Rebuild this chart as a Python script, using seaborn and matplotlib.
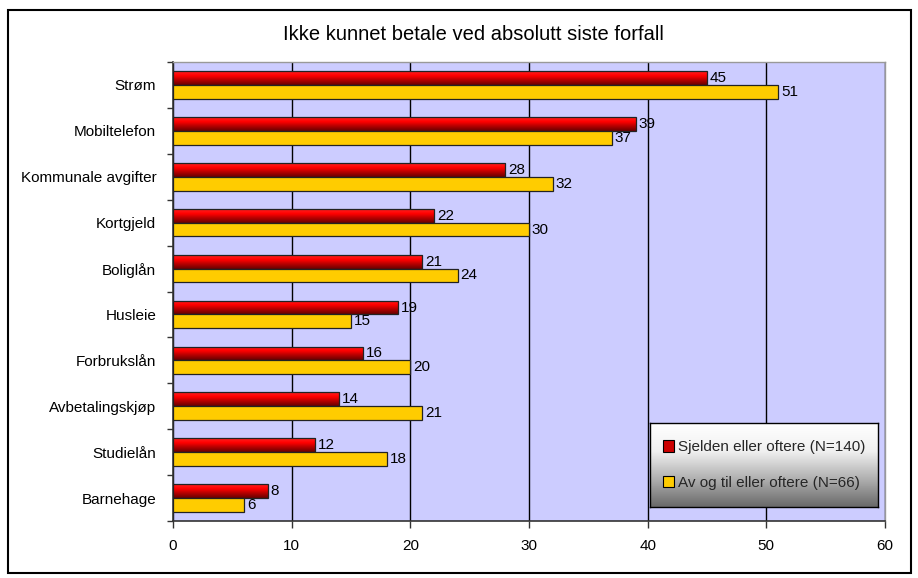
import numpy as np
import pandas as pd
import matplotlib
matplotlib.use("Agg")
import matplotlib.pyplot as plt
import seaborn as sns
from matplotlib.colors import LinearSegmentedColormap
from matplotlib.patches import Rectangle, Patch

categories = ["Strøm", "Mobiltelefon", "Kommunale avgifter", "Kortgjeld", "Boliglån",
              "Husleie", "Forbrukslån", "Avbetalingskjøp", "Studielån", "Barnehage"]
sjelden = [45, 39, 28, 22, 21, 19, 16, 14, 12, 8]
avogtil = [51, 37, 32, 30, 24, 15, 20, 21, 18, 6]
series_names = ["Sjelden eller oftere (N=140)", "Av og til eller oftere (N=66)"]
x_ticks = [0, 10, 20, 30, 40, 50, 60]
title = "Ikke kunnet betale ved absolutt siste forfall"

df = pd.DataFrame({
    "Kategori": categories * 2,
    "Prosent": sjelden + avogtil,
    "Serie": [series_names[0]] * len(categories) + [series_names[1]] * len(categories),
})

sns.set_theme(style="white")
plt.rcParams["font.family"] = ["Liberation Sans", "DejaVu Sans"]

fig = plt.figure(figsize=(9.18, 5.78), dpi=100)
ax = fig.add_axes([173 / 918, 1 - 521 / 578, (885 - 173) / 918, (521 - 62) / 578])
ax.set_facecolor("#CCCCFF")

sns.barplot(data=df, y="Kategori", x="Prosent", hue="Serie", order=categories,
            hue_order=series_names, palette=["#CC0000", "#FFCC00"], width=0.6,
            orient="h", ax=ax, edgecolor="#222222", linewidth=0.9, legend=False,
            saturation=1, zorder=3)

# gradient fill for the red series
red_cmap = LinearSegmentedColormap.from_list("redgrad", ["#FF2020", "#FF0000", "#B00000", "#6A0000"])
grad = np.linspace(0, 1, 64).reshape(-1, 1)
for p in ax.containers[0].patches:
    x0, y0, w, h = p.get_x(), p.get_y(), p.get_width(), p.get_height()
    im = ax.imshow(grad, cmap=red_cmap, aspect="auto", origin="upper",
                   extent=[x0, x0 + w, y0 + h, y0], zorder=2.9, interpolation="bilinear")
    im.set_clip_path(p)
    p.set_facecolor("none")

for c in ax.containers:
    ax.bar_label(c, padding=2, fontsize=11, color="black")

ax.set_xlim(0, 60)
ax.set_ylim(len(categories) - 0.5, -0.5)
ax.set_xticks(x_ticks)
ax.set_xlabel("")
ax.set_ylabel("")
ax.xaxis.grid(True, color="black", linewidth=1)
ax.yaxis.grid(False)
ax.set_axisbelow(True)

ax.set_yticks(np.arange(-0.5, len(categories), 1.0), minor=True)
ax.tick_params(axis="y", which="major", length=0, pad=12, labelsize=11, colors="black")
ax.tick_params(axis="y", which="minor", length=4, width=1, color="#333333", direction="out", left=True)
ax.tick_params(axis="x", which="major", length=5, width=1, color="#333333", direction="out",
               bottom=True, pad=8, labelsize=11, labelcolor="black")

for s in ["left", "bottom"]:
    ax.spines[s].set_color("#333333")
    ax.spines[s].set_linewidth(1.2)
for s in ["top", "right"]:
    ax.spines[s].set_color("#999999")
    ax.spines[s].set_linewidth(1)

# title
fig.text(473 / 918, 1 - 35 / 578, title, ha="center", va="center", fontsize=14.5, color="black")

# legend with gradient background
lx, ly, lw, lh = 650 / 918, 1 - 507 / 578, 228 / 918, 84 / 578
lax = fig.add_axes([lx, ly, lw, lh], zorder=2)
lax.imshow(np.linspace(0, 1, 64).reshape(-1, 1),
           cmap=LinearSegmentedColormap.from_list("lg", ["#FFFFFF", "#F0F0F0", "#B0B0B0", "#6A6A6A"]),
           aspect="auto", extent=[0, 1, 0, 1], origin="upper", interpolation="bilinear")
lax.set_xticks([])
lax.set_yticks([])
for s in lax.spines.values():
    s.set_color("black")
    s.set_linewidth(1)

handles = [Patch(facecolor="#CC0000", edgecolor="black", linewidth=0.8),
           Patch(facecolor="#FFCC00", edgecolor="black", linewidth=0.8)]
leg = fig.legend(handles, series_names, loc="center", bbox_to_anchor=(lx + lw / 2, ly + lh / 2),
                 frameon=False, fontsize=11, handlelength=0.75, handleheight=0.75,
                 handletextpad=0.25, labelspacing=1.4)
leg.set_zorder(5)

# outer border
fig.patches.append(Rectangle((8 / 918, 5 / 578), 903 / 918, 563 / 578, transform=fig.transFigure,
                             fill=False, edgecolor="black", linewidth=1.5))

fig.savefig("out.png", dpi=100)
